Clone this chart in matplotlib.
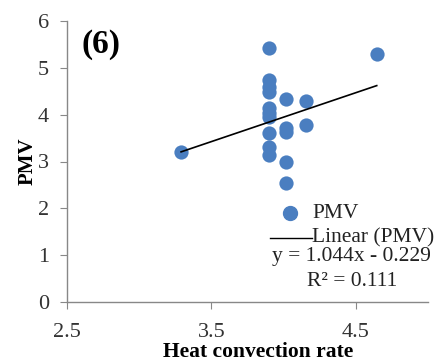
import matplotlib
matplotlib.use("Agg")
import matplotlib.pyplot as plt
import numpy as np
from matplotlib.lines import Line2D

hcr = [3.29, 3.9, 3.9, 3.9, 3.9, 3.9, 3.9, 3.9, 3.9, 3.9, 3.9,
       4.02, 4.02, 4.02, 4.02, 4.02, 4.155, 4.155, 4.645]
pmv = [3.2, 5.43, 4.74, 4.6, 4.49, 4.14, 4.03, 3.96, 3.6, 3.32, 3.14,
       4.33, 3.71, 3.62, 2.98, 2.55, 4.29, 3.79, 5.3]
slope, intercept = 1.044, -0.229
x_ticks = [2.5, 3.5, 4.5]
y_ticks = [0, 1, 2, 3, 4, 5, 6]

plt.rcParams['font.family'] = ['Liberation Serif', 'DejaVu Serif']

fig = plt.figure(figsize=(4.36, 3.62), dpi=100)
ax = fig.add_axes([67/436, 1-302/362, (428-67)/436, (302-21)/362])

blue = '#4a7ec0'
ax.scatter(hcr, pmv, s=105, color=blue, zorder=3, linewidths=0)
xl = np.array([min(hcr), max(hcr)])
ax.plot(xl, slope*xl + intercept, color='black', lw=1.2, zorder=4)

ax.set_xlim(2.5, 5.0)
ax.set_ylim(0, 6)
ax.set_xticks(x_ticks)
ax.set_yticks(y_ticks)
ax.set_xticklabels([f"{v}" for v in x_ticks])
for s in ['top', 'right']:
    ax.spines[s].set_visible(False)
for s in ['left', 'bottom']:
    ax.spines[s].set_color('#888888')
    ax.spines[s].set_linewidth(1.0)
ax.tick_params(axis='both', colors='#888888', labelcolor='#333333', labelsize=16, length=5)
ax.tick_params(axis='x', pad=10)
ax.tick_params(axis='y', pad=8)

ax.set_xlabel('Heat convection rate', fontsize=15.5, fontweight='bold', labelpad=0, x=0.53)
ax.set_ylabel('PMV', fontsize=15, fontweight='bold', labelpad=0)

ax.text(0.04, 0.915, '(6)', transform=ax.transAxes, fontsize=24, fontweight='bold', va='center')

# legend
fig.add_artist(Line2D([290/436], [1-213/362], marker='o', markersize=10, color=blue, lw=0))
fig.text(312/436, 1-213/362, 'PMV', fontsize=15.5, va='center', color='#222222')
fig.add_artist(Line2D([270/436, 312/436], [1-238/362, 1-238/362], color='black', lw=1.0))
fig.text(312/436, 1-238/362, 'Linear (PMV)', fontsize=15.5, va='center', color='#222222')
fig.text(351/436, 1-256/362, 'y = 1.044x - 0.229', fontsize=15.5, va='center', ha='center', color='#222222')
fig.text(352/436, 1-282/362, 'R\u00b2 = 0.111', fontsize=15.5, va='center', ha='center', color='#222222')

fig.savefig('out.png', dpi=100)
